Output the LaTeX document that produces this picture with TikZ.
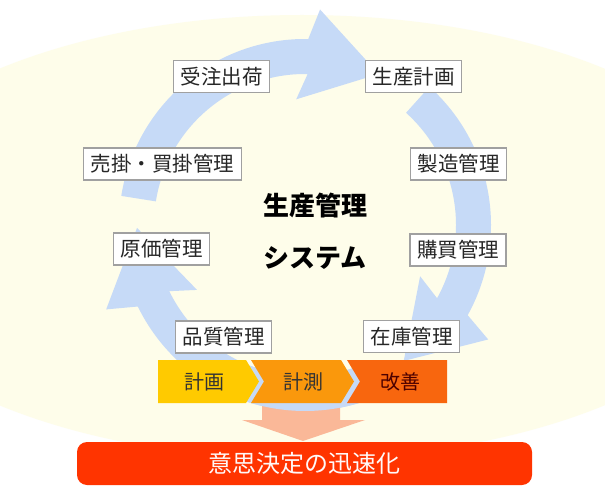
\documentclass[tikz,border=0pt]{standalone}
\usepackage{fontspec}
\setmainfont{Noto Sans CJK JP}
\usetikzlibrary{calc}
\definecolor{cream}{RGB}{254,253,234}
\definecolor{ringblue}{RGB}{198,218,247}
\definecolor{boxgray}{RGB}{160,160,160}
\definecolor{stagea}{RGB}{255,202,0}
\definecolor{stageb}{RGB}{250,152,12}
\definecolor{stagec}{RGB}{248,102,14}
\definecolor{salmon}{RGB}{250,184,152}
\definecolor{barred}{RGB}{255,52,0}
\begin{document}
\begin{tikzpicture}[x=1pt, y=1pt,
    box/.style={draw=boxgray, line width=1.3pt, fill=white, text=black!85, font=\fontsize{20.5}{24}\selectfont, inner xsep=7pt, inner ysep=0pt, minimum height=32pt},
    stage/.style={font=\fontsize{20}{24}\selectfont, text=black!80},
    title/.style={font=\fontsize{26}{30}\selectfont\bfseries},
    decision/.style={fill=barred, rounded corners=10pt, text=white!90!pink, font=\fontsize{24}{28}\selectfont, minimum width=455pt, minimum height=43pt}]

    \useasboundingbox (0,0) rectangle (605,-497);
    \clip (0,0) rectangle (605,-497);
    \fill[white] (0,0) rectangle (605,-497);
    \fill[cream] (302,-237) ellipse [x radius=464, y radius=222];

    \coordinate (ctr) at (305,-225);
    \foreach \ta/\hb in {171/89, 48/-29, -68/-154}
        \fill[ringblue] ($(ctr)+(\ta:186)$) arc[start angle=\ta, end angle=\hb, radius=186]
            -- ($(ctr)+({\hb-3}:216)$) -- ($(ctr)+({\hb-25}:168)$) -- ($(ctr)+({\hb+5}:126)$)
            -- ($(ctr)+(\hb:151)$) arc[start angle=\hb, end angle=\ta, radius=151] -- cycle;

    \fill[salmon] (262,-400) -- (340,-400) -- (340,-420) -- (365,-420) -- (303,-441) -- (242,-420) -- (262,-420) -- cycle;
    \fill[ringblue] ($(ctr)+(-111:151)$) arc[start angle=-111, end angle=-68, radius=151] -- ($(ctr)+(-68:186)$) arc[start angle=-68, end angle=-111, radius=186] -- cycle;

    \fill[stagea] (158,-360) -- (246,-360) -- (259,-381.5) -- (246,-403) -- (158,-403) -- cycle;
    \fill[stageb] (251,-360) -- (341,-360) -- (354,-381.5) -- (341,-403) -- (251,-403) -- (264,-381.5) -- cycle;
    \fill[stagec] (347,-360) -- (447,-360) -- (447,-403) -- (347,-403) -- (360,-381.5) -- cycle;
    \node[stage] (s_plan) at (204,-381.5) {計画};
    \node[stage] (s_meas) at (303,-381.5) {計測};
    \node[stage, text=black!70!red] (s_impr) at (400,-381.5) {改善};

    \node[box] (order) at (221.5,-76.5) {受注出荷};
    \node[box] (plan) at (413.5,-76.5) {生産計画};
    \node[box] (sales) at (162.5,-164) {売掛・買掛管理};
    \node[box] (mfg) at (458.5,-164) {製造管理};
    \node[box] (cost) at (161.5,-249) {原価管理};
    \node[box] (purch) at (458,-250) {購買管理};
    \node[box] (qual) at (223.5,-337) {品質管理};
    \node[box] (stock) at (411.5,-336.5) {在庫管理};

    \node[title] (t_main) at (315,-206) {生産管理};
    \node[title] (t_sys) at (315,-258) {システム};

    \node[decision] (decide) at (304.5,-463.5) {意思決定の迅速化};

\end{tikzpicture}
\end{document}
